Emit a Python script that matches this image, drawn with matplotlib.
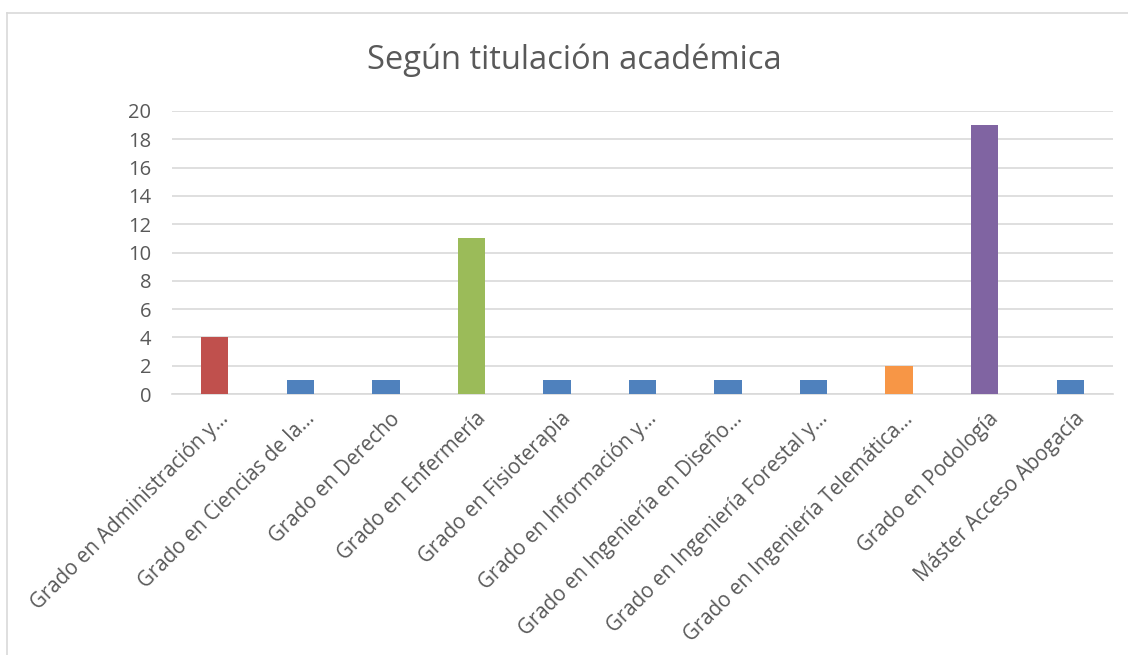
import matplotlib.pyplot as plt
from matplotlib.lines import Line2D
from matplotlib.transforms import ScaledTranslation

# data
categories = [
    "Grado en Administración y…",
    "Grado en Ciencias de la…",
    "Grado en Derecho",
    "Grado en Enfermería",
    "Grado en Fisioterapia",
    "Grado en Información y…",
    "Grado en Ingeniería en Diseño…",
    "Grado en Ingeniería Forestal y…",
    "Grado en Ingeniería Telemática…",
    "Grado en Podología",
    "Máster Acceso Abogacía",
]
values = [4, 1, 1, 11, 1, 1, 1, 1, 2, 19, 1]
colors = ["#C0504D", "#4F81BD", "#4F81BD", "#9BBB59", "#4F81BD", "#4F81BD",
          "#4F81BD", "#4F81BD", "#F79646", "#8064A2", "#4F81BD"]
yticks = list(range(0, 21, 2))

plt.rcParams['font.family'] = ['Open Sans', 'DejaVu Sans']
text_color = '#595959'

W, H = 1128, 655
fig = plt.figure(figsize=(W / 100, H / 100), dpi=100)

# chart frame (only top and left edges are inside the picture)
frame_x, frame_y = 7 / W, 1 - 13 / H
fig.add_artist(Line2D([frame_x, 1.0], [frame_y, frame_y], color='#D9D9D9', linewidth=1.2,
                      transform=fig.transFigure))
fig.add_artist(Line2D([frame_x, frame_x], [0.0, frame_y], color='#D9D9D9', linewidth=1.2,
                      transform=fig.transFigure))

ax = fig.add_axes([172 / W, 1 - 394 / H, (1113 - 172) / W, (394 - 111) / H])
x = range(len(categories))
ax.bar(x, values, width=0.32, color=colors, zorder=3)

ax.set_xlim(-0.5, len(categories) - 0.5)
ax.set_ylim(0, 20)
ax.set_yticks(yticks)
ax.set_yticklabels([str(t) for t in yticks], fontsize=14.5, color=text_color)
ax.yaxis.grid(True, color='#D9D9D9', linewidth=1.2, zorder=0)
ax.set_axisbelow(True)

ax.set_xticks(list(x))
ax.set_xticklabels(categories, rotation=45, ha='right', va='center',
                   rotation_mode='anchor', fontsize=14.8, color=text_color)
ax.tick_params(axis='both', length=0)
ax.tick_params(axis='x', pad=10)
ax.tick_params(axis='y', pad=15)

# shift the slanted labels like the original
shift = ScaledTranslation(11 / 100, -8 / 100, fig.dpi_scale_trans)
for lbl in ax.get_xticklabels():
    lbl.set_transform(lbl.get_transform() + shift)

for side in ['top', 'right', 'left']:
    ax.spines[side].set_visible(False)
ax.spines['bottom'].set_color('#D9D9D9')
ax.spines['bottom'].set_linewidth(1.2)

fig.text(574 / W, 1 - 60 / H, "Según titulación académica", ha='center', va='center',
         fontsize=23.5, color=text_color)

fig.savefig('out.png', dpi=100)
